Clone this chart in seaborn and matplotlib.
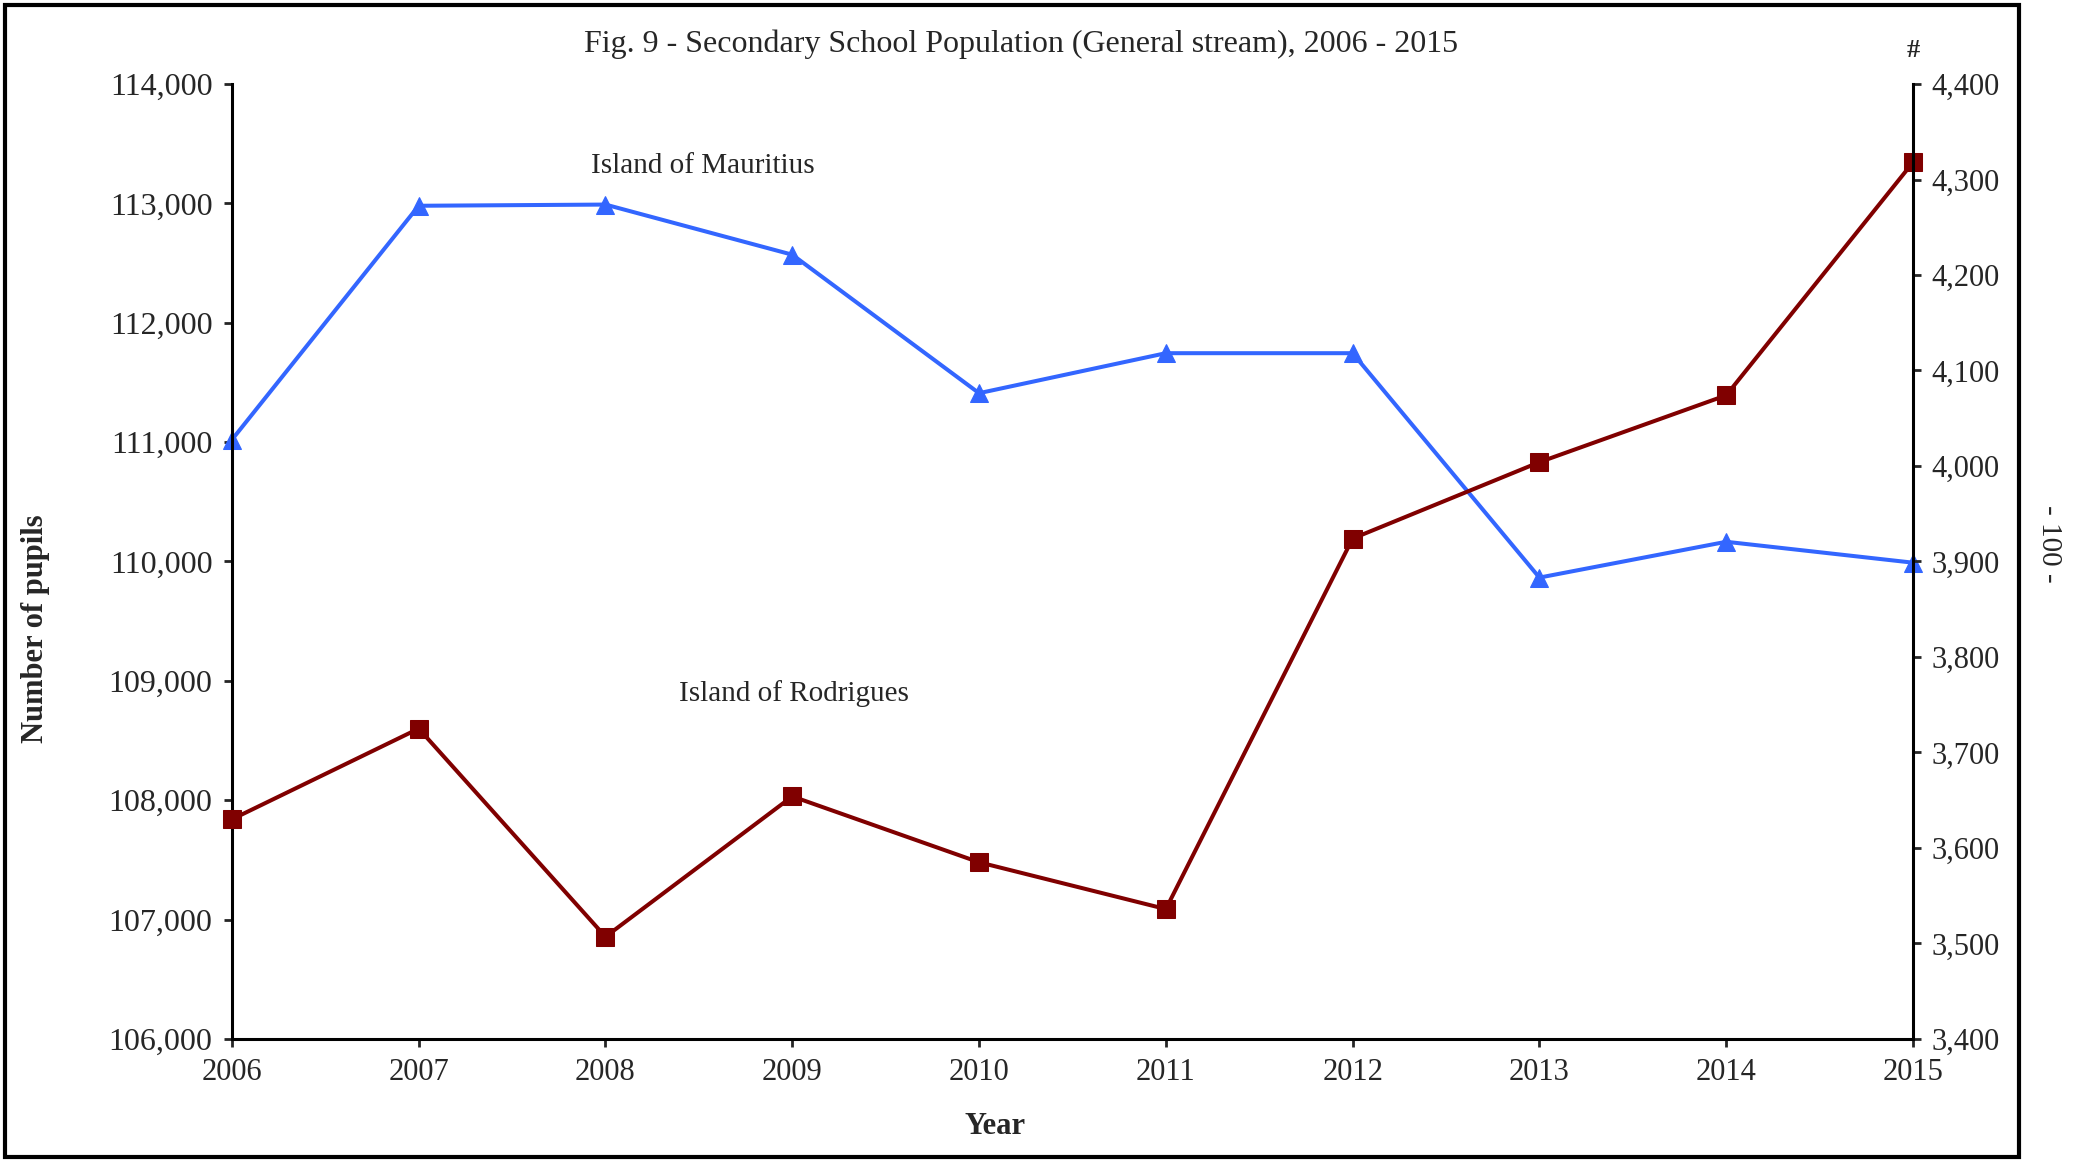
import matplotlib
matplotlib.use('Agg')
import matplotlib.pyplot as plt
import matplotlib.ticker as mticker
from matplotlib.patches import Rectangle
import seaborn as sns

# values
years = [2006, 2007, 2008, 2009, 2010, 2011, 2012, 2013, 2014, 2015]
mauritius = [111020, 112980, 112990, 112570, 111410, 111745, 111745, 109865, 110165, 109990]
rodrigues = [3630, 3725, 3507, 3654, 3585, 3536, 3924, 4004, 4074, 4318]

left_ticks = [106000, 107000, 108000, 109000, 110000, 111000, 112000, 113000, 114000]
right_ticks = [3400, 3500, 3600, 3700, 3800, 3900, 4000, 4100, 4200, 4300, 4400]

blue = '#3366FF'
red = '#800000'

sns.set_style('white')
plt.rcParams['font.family'] = ['Liberation Serif', 'DejaVu Serif']

fig = plt.figure(figsize=(20.8, 11.62), dpi=100)
ax = fig.add_axes([0.1115, 0.1059, 0.8082, 0.8218])
ax2 = ax.twinx()

sns.lineplot(x=years, y=mauritius, ax=ax, color=blue, linewidth=2.9, marker='^',
             markersize=13, markeredgecolor=blue, clip_on=False)
sns.lineplot(x=years, y=rodrigues, ax=ax2, color=red, linewidth=2.9, marker='s',
             markersize=12.5, markeredgecolor=red, clip_on=False)

ax.set_xlim(2006, 2015)
ax.set_ylim(106000, 114000)
ax2.set_ylim(3400, 4400)
ax.set_xticks(years)
ax.set_yticks(left_ticks)
ax2.set_yticks(right_ticks)

fmt = mticker.FuncFormatter(lambda v, p: f'{v:,.0f}')
ax.yaxis.set_major_formatter(fmt)
ax2.yaxis.set_major_formatter(fmt)

for a in (ax, ax2):
    for s in a.spines.values():
        s.set_visible(False)
    a.grid(False)
ax.spines['left'].set_visible(True)
ax.spines['bottom'].set_visible(True)
ax2.spines['right'].set_visible(True)
for s in (ax.spines['left'], ax.spines['bottom'], ax2.spines['right']):
    s.set_linewidth(2.2)
    s.set_color('black')

ax.tick_params(axis='y', direction='out', length=6, width=2, labelsize=23, pad=8, left=True)
ax.tick_params(axis='x', direction='out', length=6, width=2, labelsize=22, pad=8, bottom=True)
ax2.tick_params(axis='y', direction='out', length=6, width=2, labelsize=22, pad=7, right=True)

ax.set_xlabel('Year', fontsize=22, fontweight='bold')
ax.set_ylabel('Number of pupils', fontsize=22, fontweight='bold')
ax.xaxis.set_label_coords(0.454, -0.077)
ax.yaxis.set_label_coords(-0.108, 0.43)
ax2.set_ylabel('')

ax.text(2008.52, 113310, 'Island of Mauritius', fontsize=21, ha='center', va='center')
ax2.text(2009.01, 3762, 'Island of Rodrigues', fontsize=21, ha='center', va='center')

ax2.text(1.0, 1.035, '#', transform=ax2.transAxes, fontsize=19, fontweight='bold',
         ha='center', va='center')

fig.text(0.491, 0.962, 'Fig. 9 - Secondary School Population (General stream), 2006 - 2015',
         fontsize=23, ha='center', va='center')
fig.text(0.985, 0.532, '- 100 -', fontsize=21, rotation=270, ha='center', va='center')

fig.patches.append(Rectangle((5 / 2080, 5 / 1162), 2014 / 2080, 1152 / 1162,
                             transform=fig.transFigure, fill=False,
                             edgecolor='black', linewidth=3, zorder=10))

fig.savefig('out.png', dpi=100)
